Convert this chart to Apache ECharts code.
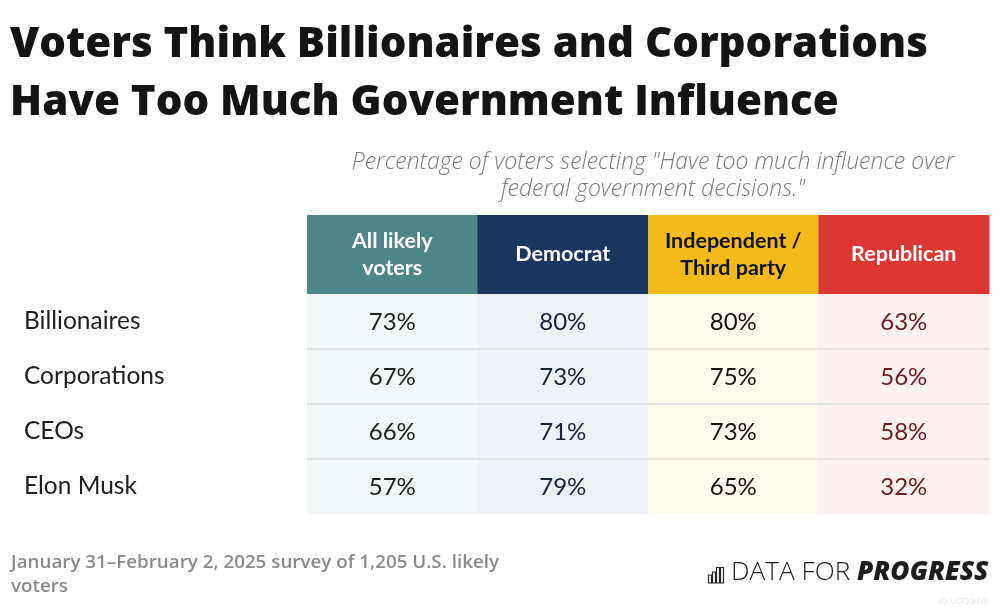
<!DOCTYPE html>
<html>
<head>
<meta charset="utf-8">
<script src="https://cdn.jsdelivr.net/npm/echarts@6/dist/echarts.min.js"></script>
<style>
html,body{margin:0;padding:0;background:#fff;}
#chart{width:1000px;height:609px;}
</style>
</head>
<body>
<div id="chart"></div>
<script>
// ---- data ----
const categories = ['Billionaires', 'Corporations', 'CEOs', 'Elon Musk'];
const groups = ['All likely\nvoters', 'Democrat', 'Independent /\nThird party', 'Republican'];
const allVoters = [73, 67, 66, 57];
const democrat = [80, 73, 71, 79];
const independent = [80, 75, 73, 65];
const republican = [63, 56, 58, 32];

// ---- styles ----
const headerColors = ['#4d8588', '#1b365e', '#f2bb1a', '#dc3833'];
const headerText = ['#ffffff', '#ffffff', '#111111', '#ffffff'];
const cellColors = ['#f2f7f7', '#eef1f6', '#fefcf0', '#fdf1f1'];
const cellText = ['#1e1e1e', '#17213a', '#111111', '#6d1a1a'];
const FONT = 'Lato';
const FONT2 = '"Open Sans"';

const columns = [allVoters, democrat, independent, republican];
const bodyData = [];
columns.forEach((col, ci) => col.forEach((v, ri) => bodyData.push([ci, ri, v])));
const headerData = groups.map((g, i) => [i, 0, g]);

const chart = echarts.init(document.getElementById('chart'), null, {renderer: 'canvas'});

const option = {
  backgroundColor: '#ffffff',
  animation: false,
  title: [
    {
      text: 'Voters Think Billionaires and Corporations\nHave Too Much Government Influence',
      left: 5, top: 11,
      textStyle: {fontFamily: FONT2, fontWeight: 800, fontSize: 42, lineHeight: 58, color: '#141414'}
    },
    {
      text: 'Percentage of voters selecting "Have too much influence over\nfederal government decisions."',
      left: 648, top: 144, textAlign: 'center',
      textStyle: {fontFamily: FONT2, fontStyle: 'italic', fontWeight: 300, fontSize: 23, lineHeight: 27, color: '#7a7a7a', align: 'center'}
    },
    {
      text: 'January 31\u2013February 2, 2025 survey of 1,205 U.S. likely\nvoters',
      left: 6, top: 546,
      textStyle: {fontFamily: FONT2, fontWeight: 600, fontSize: 18.8, lineHeight: 24, color: '#8a8a8a'}
    }
  ],
  grid: [
    {left: 307, width: 682, top: 215, height: 79},
    {left: 307, width: 682, top: 294, height: 220}
  ],
  xAxis: [
    {gridIndex: 0, type: 'category', data: groups, show: false},
    {gridIndex: 1, type: 'category', data: groups, show: false}
  ],
  yAxis: [
    {gridIndex: 0, type: 'category', data: ['header'], show: false},
    {
      gridIndex: 1, type: 'category', data: categories, inverse: true,
      axisLine: {show: false}, axisTick: {show: false}, splitLine: {show: false},
      axisLabel: {margin: 283, align: 'left', fontFamily: FONT, fontSize: 24.5, color: '#1e1e1e'}
    }
  ],
  series: [
    {
      type: 'custom', xAxisIndex: 0, yAxisIndex: 0, data: headerData,
      renderItem: function (params, api) {
        const ci = api.value(0);
        const p = api.coord([ci, 0]);
        const s = api.size([1, 1]);
        return {
          type: 'group',
          children: [
            {type: 'rect', shape: {x: p[0] - s[0] / 2, y: p[1] - s[1] / 2, width: s[0] + 0.5, height: s[1]},
             style: {fill: headerColors[ci]}},
            {type: 'text', x: p[0], y: p[1],
             style: {text: groups[ci], fill: headerText[ci], align: 'center', verticalAlign: 'middle',
                     font: '700 21.5px ' + FONT, lineHeight: 27}}
          ]
        };
      }
    },
    {
      type: 'custom', xAxisIndex: 1, yAxisIndex: 1, data: bodyData,
      renderItem: function (params, api) {
        const ci = api.value(0), ri = api.value(1), v = api.value(2);
        const p = api.coord([ci, ri]);
        const s = api.size([1, 1]);
        const x0 = p[0] - s[0] / 2, y0 = p[1] - s[1] / 2;
        const children = [
          {type: 'rect', shape: {x: x0, y: y0, width: s[0] + 0.5, height: s[1]}, style: {fill: cellColors[ci]}},
          {type: 'text', x: p[0], y: p[1] + 1,
           style: {text: v + '%', fill: cellText[ci], align: 'center', verticalAlign: 'middle', font: '400 24px ' + FONT}}
        ];
        if (ri > 0) {
          children.push({type: 'line', shape: {x1: x0, y1: y0, x2: x0 + s[0] + 0.5, y2: y0},
                         style: {stroke: '#dcdee1', lineWidth: 1.5}, z2: 5});
        }
        return {type: 'group', children: children};
      }
    }
  ],
  graphic: [
    // logo icon
    {type: 'group', left: 706, top: 565, children: [
      {type: 'rect', shape: {x: 0.5, y: 8, width: 3, height: 8}, style: {fill: 'none', stroke: '#222', lineWidth: 1.2}},
      {type: 'rect', shape: {x: 4.5, y: 5, width: 3, height: 11}, style: {fill: 'none', stroke: '#222', lineWidth: 1.2}},
      {type: 'rect', shape: {x: 8.5, y: 0.5, width: 3, height: 15.5}, style: {fill: 'none', stroke: '#222', lineWidth: 1.2}},
      {type: 'rect', shape: {x: 12.5, y: 0.5, width: 3, height: 15.5}, style: {fill: 'none', stroke: '#222', lineWidth: 1.2}}
    ]},
    {type: 'text', left: 731, top: 560, style: {
      text: '{a|DATA FOR }{b|PROGRESS}',
      rich: {
        a: {fontFamily: FONT2, fontWeight: 300, fontSize: 26.2, fill: '#1e1e1e'},
        b: {fontFamily: FONT2, fontWeight: 800, fontStyle: 'italic', fontSize: 26.2, fill: '#1e1e1e'}
      }
    }},
    {type: 'text', right: 12, top: 597, style: {text: 'ID: UGQ3HW', font: '400 8px ' + FONT, fill: '#e4e4e4'}}
  ]
};
chart.setOption(option);
</script>
</body>
</html>
